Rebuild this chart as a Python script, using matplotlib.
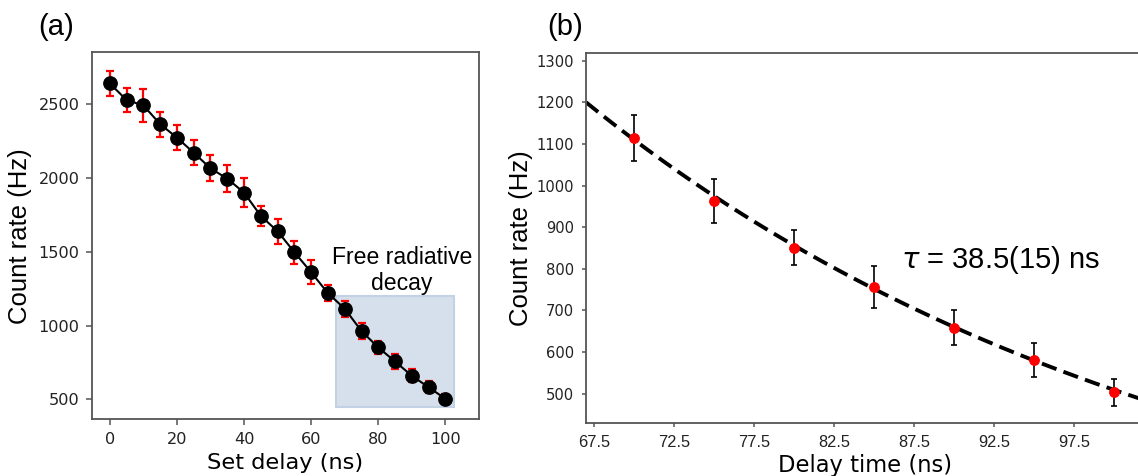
import numpy as np
import matplotlib
matplotlib.use("Agg")
import matplotlib.pyplot as plt
from matplotlib.patches import Rectangle

# ---------------- data ----------------
set_delay = [0, 5, 10, 15, 20, 25, 30, 35, 40, 45, 50, 55, 60, 65, 70, 75, 80, 85, 90, 95, 100]
count_a = [2642, 2529, 2493, 2366, 2274, 2172, 2066, 1996, 1901, 1743, 1639, 1497, 1361, 1219,
           1114, 962, 851, 756, 659, 581, 503]
err_a = [84, 81, 110, 85, 87, 84, 88, 92, 99, 70, 86, 77, 80, 54,
         55, 53, 43, 50, 43, 40, 33]

delay_b = [70, 75, 80, 85, 90, 95, 100]
count_b = [1114, 962, 851, 756, 659, 581, 503]
err_b = [55, 53, 43, 50, 43, 40, 33]

fit_t0 = 67.0
fit_amp = 1200.0
fit_tau = 38.5

xticks_a = [0, 20, 40, 60, 80, 100]
yticks_a = [500, 1000, 1500, 2000, 2500]
xticks_b = [67.5, 72.5, 77.5, 82.5, 87.5, 92.5, 97.5]
yticks_b = [500, 600, 700, 800, 900, 1000, 1100, 1200, 1300]

region_x = (67.5, 102.5)
region_y = (450, 1202)

# ---------------- figure ----------------
W, H = 1138, 476
fig = plt.figure(figsize=(W / 100, H / 100), dpi=100)

def frac(l, t, r, b):
    return [l / W, 1 - b / H, (r - l) / W, (b - t) / H]

spine_col = "#555555"
tick_col = "#222222"

ax1 = fig.add_axes(frac(92, 52, 479, 419.3))
ax2 = fig.add_axes(frac(586, 52.7, 1143.7, 423.3))

for ax in (ax1, ax2):
    for s in ax.spines.values():
        s.set_color(spine_col)
        s.set_linewidth(1.3)

# ----- panel (a) -----
ax1.add_patch(Rectangle((region_x[0], region_y[0]), region_x[1] - region_x[0],
                        region_y[1] - region_y[0], facecolor="#d6e0ec",
                        edgecolor="#c3d1e4", lw=1.5, zorder=0))
ax1.errorbar(set_delay, count_a, yerr=err_a, fmt="none", ecolor="red",
             elinewidth=1.6, capsize=3.2, capthick=1.6, zorder=2)
ax1.plot(set_delay, count_a, color="black", lw=1.5, marker="o", markersize=9.6,
         markerfacecolor="black", markeredgecolor="black", zorder=3)
ax1.set_xlim(-5.3, 110.0)
ax1.set_ylim(364, 2855)
ax1.set_xticks(xticks_a)
ax1.set_yticks(yticks_a)
ax1.tick_params(axis="both", direction="out", length=4, width=1.1, color=spine_col,
                labelsize=11.6, labelcolor=tick_col, pad=5.0)
for lab in ax1.get_xticklabels() + ax1.get_yticklabels():
    lab.set_family("DejaVu Sans")
ax1.text(87.0, 1206, "Free radiative\ndecay", ha="center", va="bottom",
         fontsize=16.6, family="Liberation Sans", linespacing=1.15)
ax1.set_xlabel("Set delay (ns)", fontsize=16.2, family="DejaVu Sans")
ax1.set_ylabel("Count rate (Hz)", fontsize=18.5, family="Liberation Sans")
ax1.xaxis.set_label_coords(0.5, -0.093)
ax1.yaxis.set_label_coords(-0.155, 0.5)

# ----- panel (b) -----
xlo, xhi = 67.0, 101.86
t_fit = np.linspace(xlo, xhi, 400)
y_fit = fit_amp * np.exp(-(t_fit - fit_t0) / fit_tau)
ax2.plot(t_fit, y_fit, color="black", lw=2.8, ls=(0, (4.0, 1.9)), zorder=1)
ax2.errorbar(delay_b, count_b, yerr=err_b, fmt="none", ecolor="black",
             elinewidth=1.2, capsize=2.0, capthick=1.2, zorder=2)
ax2.plot(delay_b, count_b, ls="none", marker="o", markersize=6.8,
         markerfacecolor="red", markeredgecolor="red", zorder=3)
ax2.set_xlim(xlo, xhi)
ax2.set_ylim(429, 1319)
ax2.set_xticks(xticks_b)
ax2.set_xticklabels([f"{v:.1f}" for v in xticks_b])
ax2.set_yticks(yticks_b)
ax2.tick_params(axis="both", direction="out", length=3, width=1.1, color=spine_col,
                labelcolor=tick_col, pad=5.5)
for lab in ax2.get_yticklabels():
    lab.set_family("DejaVu Sans")
    lab.set_fontsize(10.6)
for lab in ax2.get_xticklabels():
    lab.set_family("Liberation Sans")
    lab.set_fontsize(11.8)
ax2.text(92.9, 822, r"$\mathit{\tau}$ = 38.5(15) ns", ha="center", va="center",
         fontsize=21, family="Liberation Sans")
ax2.set_xlabel("Delay time (ns)", fontsize=16.3, family="DejaVu Sans")
ax2.set_ylabel("Count rate (Hz)", fontsize=18.5, family="Liberation Sans")
ax2.xaxis.set_label_coords(0.5, -0.082)
ax2.yaxis.set_label_coords(-0.095, 0.5)

fig.text(38 / W, 1 - 27 / H, "(a)", ha="left", va="center", fontsize=21,
         family="Liberation Sans")
fig.text(547 / W, 1 - 27 / H, "(b)", ha="left", va="center", fontsize=21,
         family="Liberation Sans")

fig.savefig("out.png", dpi=100)
